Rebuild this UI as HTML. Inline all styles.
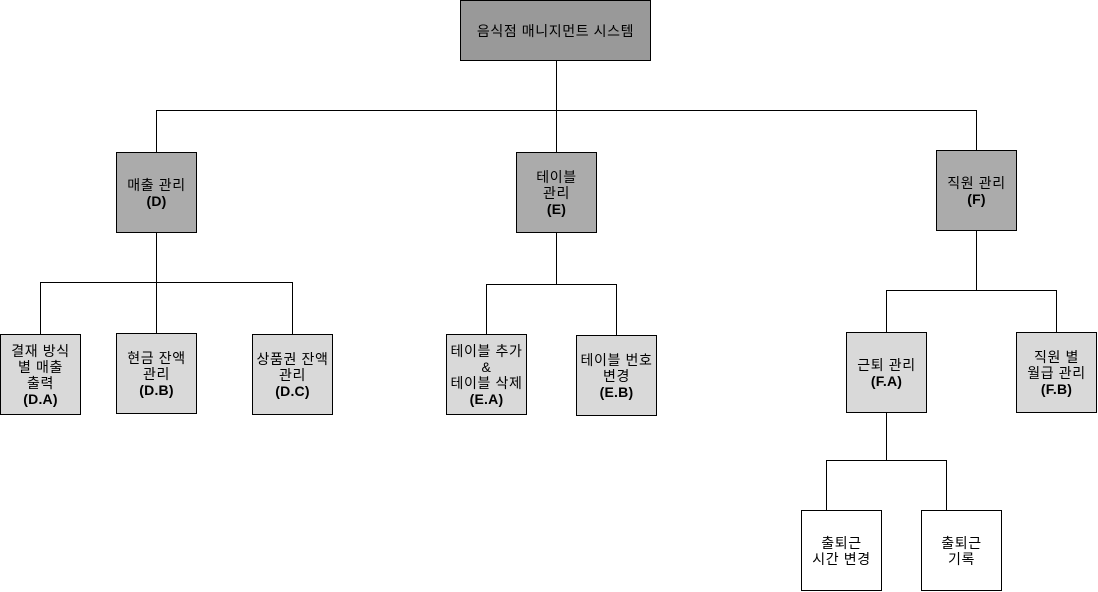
<!DOCTYPE html>
<html><head><meta charset="utf-8"><style>
body{margin:0;width:1098px;height:592px;background:#fff;position:relative;overflow:hidden;font-family:"Liberation Sans","Noto Sans CJK KR",sans-serif;}
.b{position:absolute;box-sizing:border-box;border:1px solid #000;display:flex;align-items:center;justify-content:center;text-align:center;font-size:14px;letter-spacing:0.6px;line-height:16px;color:#000;white-space:nowrap;}
.r{background:#999}.m{background:#ababab}.l{background:#d9d9d9}.w{background:#fff}
b{font-weight:bold;letter-spacing:0.2px}
svg{position:absolute;left:0;top:0}
</style></head><body>
<svg width="1098" height="592"><g stroke="#000" stroke-width="1" fill="none">
<path d="M556.5 60V110.5M156.5 152V110.5H976.5V150M556.5 110.5V152"/>
<path d="M156.5 232V282.5M40.5 334V282.5H292.5V334M156.5 282.5V333"/>
<path d="M556.5 232V284.5M486.5 334V284.5H616.5V335"/>
<path d="M976.5 230V290.5M886.5 332V290.5H1056.5V332"/>
<path d="M886.5 412V460.5M826.5 510V460.5H946.5V510"/>
</g></svg>
<div class="b r" style="left:460px;top:0;width:191px;height:61px">음식점 매니지먼트 시스템</div>
<div class="b m" style="left:116px;top:152px;width:81px;height:81px"><div>매출 관리<br><b>(D)</b></div></div>
<div class="b m" style="left:516px;top:152px;width:81px;height:81px"><div>테이블<br>관리<br><b>(E)</b></div></div>
<div class="b m" style="left:936px;top:150px;width:81px;height:81px"><div>직원 관리<br><b>(F)</b></div></div>
<div class="b l" style="left:0;top:334px;width:81px;height:81px"><div>결재 방식<br>별 매출<br>출력<br><b>(D.A)</b></div></div>
<div class="b l" style="left:116px;top:333px;width:81px;height:81px"><div>현금 잔액<br>관리<br><b>(D.B)</b></div></div>
<div class="b l" style="left:252px;top:334px;width:81px;height:81px"><div>상품권 잔액<br>관리<br><b>(D.C)</b></div></div>
<div class="b l" style="left:446px;top:334px;width:81px;height:81px"><div>테이블 추가<br>&amp;<br>테이블 삭제<br><b>(E.A)</b></div></div>
<div class="b l" style="left:576px;top:335px;width:81px;height:81px"><div>테이블 번호<br>변경<br><b>(E.B)</b></div></div>
<div class="b l" style="left:846px;top:332px;width:81px;height:81px"><div>근퇴 관리<br><b>(F.A)</b></div></div>
<div class="b l" style="left:1016px;top:332px;width:81px;height:81px"><div>직원 별<br>월급 관리<br><b>(F.B)</b></div></div>
<div class="b w" style="left:801px;top:510px;width:81px;height:81px"><div>출퇴근<br>시간 변경</div></div>
<div class="b w" style="left:921px;top:510px;width:81px;height:81px"><div>출퇴근<br>기록</div></div>
</body></html>
